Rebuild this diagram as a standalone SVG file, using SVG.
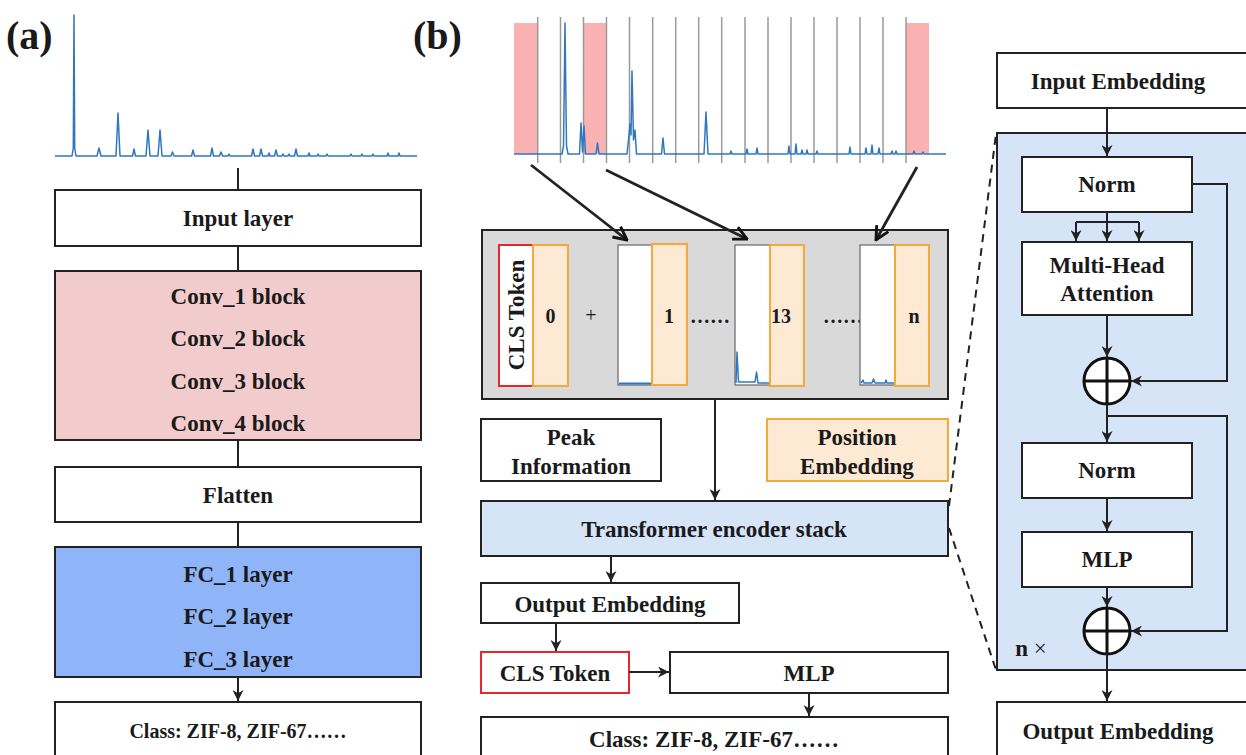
<svg xmlns="http://www.w3.org/2000/svg" width="1246" height="755" viewBox="0 0 1246 755">
<defs>
<style>
text{font-family:"Liberation Serif","Times New Roman",serif;font-weight:bold;fill:#1a1a1a;text-anchor:middle}
.t20{font-size:23px}
.t18{font-size:20px}
.lbl{font-size:40px;text-anchor:start}
.box{fill:#fff;stroke:#222;stroke-width:2}
.pink{fill:#f2cbcc;stroke:#222;stroke-width:2}
.fc{fill:#8fb4f7;stroke:#222;stroke-width:2}
.lb{fill:#d6e4f8;stroke:#222;stroke-width:2}
.gray{fill:#d9d9d9;stroke:#222;stroke-width:2}
.org{fill:#fde9d4;stroke:#f6a93b;stroke-width:2}
.red{fill:#fff;stroke:#e8262b;stroke-width:2}
.spec{fill:none;stroke:#2f78bd;stroke-width:1.5;stroke-linejoin:round}
.ln{fill:none;stroke:#222;stroke-width:2}
.grid{stroke:#9a9a9a;stroke-width:1.5}
.dash{fill:none;stroke:#222;stroke-width:2;stroke-dasharray:8,6}
</style>
<marker id="ah" viewBox="0 0 10 10" refX="10" refY="5" markerWidth="11" markerHeight="11" markerUnits="userSpaceOnUse" orient="auto"><path d="M0,0 L10,5 L0,10 L3,5 z" fill="#222"/></marker>
<marker id="av" viewBox="0 0 12 12" refX="11" refY="6" markerWidth="16" markerHeight="16" markerUnits="userSpaceOnUse" orient="auto"><path d="M1,1 L11,6 L1,11" fill="none" stroke="#111" stroke-width="2.2"/></marker>
</defs>

<!-- Panel labels -->
<text class="lbl" x="6" y="49">(a)</text>
<text class="lbl" x="413" y="49">(b)</text>

<!-- Panel (a) spectrum -->
<g id="spectrum-a">
<path class="spec" d="M55,156 L72,156 L73.3,148 L74,15 L74.7,148 L76,156 L97,156 L99,148 L101,156 L116,156 L118,113 L120,156 L132.5,156 L134,149 L135.5,156 L146,156 L148,130 L150,156 L158,156 L160,130 L162,156 L171,156 L172.5,152 L174,156 L191.5,156 L193,150 L194.5,156 L210.5,156 L212,148 L213.5,156 L219.5,156 L221,152 L222.5,156 L228,156 L229,154 L230,156 L251.5,156 L253,149 L254.5,156 L259.5,156 L261,149 L262.5,156 L268,156 L269,153 L270,156 L274.5,156 L276,150 L277.5,156 L282,156 L283,154 L284,156 L288,156 L289,154 L290,156 L294.5,156 L296,149 L297.5,156 L308,156 L309,153 L310,156 L317,156 L318,154 L319,156 L326,156 L327,154 L328,156 L350,156 L351,154 L352,156 L361,156 L362,154 L363,156 L372,156 L373,154 L374,156 L387,156 L388,153 L389,156 L398,156 L399,153 L400,156 L417,156"/>
</g>

<!-- Panel (a) nodes -->
<g id="input-layer"><rect class="box" x="55" y="190" width="366" height="56"/><text class="t20" x="238" y="226">Input layer</text></g>
<g id="conv-blocks"><rect class="pink" x="55" y="271" width="366" height="169"/>
<text class="t20" x="238" y="304">Conv_1 block</text>
<text class="t20" x="238" y="346">Conv_2 block</text>
<text class="t20" x="238" y="389">Conv_3 block</text>
<text class="t20" x="238" y="431">Conv_4 block</text></g>
<g id="flatten"><rect class="box" x="55" y="467" width="366" height="55"/><text class="t20" x="238" y="503">Flatten</text></g>
<g id="fc-layers"><rect class="fc" x="55" y="547" width="366" height="130"/>
<text class="t20" x="238" y="582">FC_1 layer</text>
<text class="t20" x="238" y="624">FC_2 layer</text>
<text class="t20" x="238" y="667">FC_3 layer</text></g>
<g id="class-a"><rect class="box" x="55" y="702" width="366" height="60"/><text class="t18" x="238" y="738">Class: ZIF-8, ZIF-67……</text></g>

<!-- Panel (b) spectrum -->
<g id="spectrum-b">
<rect x="514" y="23" width="23.5" height="131" fill="#f9a9aa" opacity="0.9"/>
<rect x="583" y="23" width="23" height="131" fill="#f9a9aa" opacity="0.9"/>
<rect x="906" y="23" width="23" height="131" fill="#f9a9aa" opacity="0.9"/>
<g class="grid">
<line x1="537.7" y1="17" x2="537.7" y2="163"/><line x1="560.5" y1="17" x2="560.5" y2="163"/><line x1="583.5" y1="17" x2="583.5" y2="163"/><line x1="606.5" y1="17" x2="606.5" y2="163"/><line x1="629.5" y1="17" x2="629.5" y2="163"/><line x1="652.7" y1="17" x2="652.7" y2="163"/><line x1="675.7" y1="17" x2="675.7" y2="163"/><line x1="698.7" y1="17" x2="698.7" y2="163"/><line x1="721.7" y1="17" x2="721.7" y2="163"/><line x1="745" y1="17" x2="745" y2="163"/><line x1="768" y1="17" x2="768" y2="163"/><line x1="791" y1="17" x2="791" y2="163"/><line x1="814" y1="17" x2="814" y2="163"/><line x1="837" y1="17" x2="837" y2="163"/><line x1="860" y1="17" x2="860" y2="163"/><line x1="883" y1="17" x2="883" y2="163"/><line x1="906" y1="17" x2="906" y2="163"/>
</g>
<path class="spec" d="M514,154 L562,154 L563.5,146 L565,23 L566.5,146 L568,154 L579.5,154 L581,123 L582.5,152 L584,126 L585.5,154 L596,154 L597.5,143 L599,154 L627,154 L628.5,140 L630,124 L631,135 L632,71 L633.5,140 L635,130 L636.5,154 L661.5,154 L663,138 L664.5,154 L704,154 L706,112 L708,154 L730,154 L731,151 L732,154 L746,154 L747,149 L748,154 L756,154 L757,148 L758,154 L788,154 L789,146 L790,154 L795,154 L796,144 L797,154 L801,154 L802,150 L803,154 L806,154 L807,150 L808,154 L816,154 L817,151 L818,154 L849,154 L850,147 L851,154 L865,154 L866,148 L867,154 L871,154 L872,145 L873,154 L878,154 L879,148 L880,154 L891,154 L892,151 L893,154 L895,154 L896,151 L897,154 L913,154 L914,151 L915,154 L922,154 L923,152 L924,154 L946,154"/>
</g>

<!-- Token sequence -->
<g id="token-sequence">
<rect class="gray" x="482" y="230" width="466" height="169"/>
<rect class="red" x="499" y="245" width="34" height="141"/>
<text class="t20" transform="translate(524,315) rotate(-90)">CLS Token</text>
<rect class="org" x="533" y="245" width="35" height="141"/>
<text class="t18" x="550.5" y="323">0</text>
<text class="t18" x="591" y="322" style="font-weight:normal">+</text>
<rect x="618" y="245" width="34" height="140" fill="#fff" stroke="#666" stroke-width="1.2"/>
<path class="spec" d="M619,383.5 L651,383.5" style="stroke-width:2"/>
<rect class="org" x="652" y="244" width="35" height="141"/>
<text class="t18" x="669" y="323">1</text>
<text class="t18" x="710" y="323">……</text>
<rect x="735" y="245" width="35" height="140" fill="#fff" stroke="#666" stroke-width="1.2"/>
<path class="spec" d="M736,383 L737,352 L738.5,382 L755,382 L756.5,372 L758,383 L769,383"/>
<rect class="org" x="770" y="245" width="34" height="141"/>
<text class="t18" x="781" y="323">13</text>
<text class="t18" x="843" y="323">……</text>
<rect x="860" y="245" width="35" height="140" fill="#fff" stroke="#666" stroke-width="1.2"/>
<path class="spec" d="M861,383 L863,380 L864,383 L872,383 L873.5,379 L875,383 L885,383 L886,380 L887,383 L894,383"/>
<rect class="org" x="895" y="245" width="34" height="141"/>
<text class="t18" x="914" y="323">n</text>
</g>

<g id="peak-information"><rect class="box" x="481" y="419" width="180" height="62"/><text class="t20" x="571" y="445">Peak</text><text class="t20" x="571" y="474">Information</text></g>
<g id="position-embedding"><rect class="org" x="767" y="419" width="181" height="62"/><text class="t20" x="857" y="445">Position</text><text class="t20" x="857" y="474">Embedding</text></g>
<g id="transformer-stack"><rect class="lb" x="481" y="501" width="467" height="55"/><text class="t20" x="714" y="537">Transformer encoder stack</text></g>
<g id="output-embedding-b"><rect class="box" x="481" y="583" width="258" height="40"/><text class="t20" x="610" y="612">Output Embedding</text></g>
<g id="cls-token-b"><rect class="red" x="481" y="652" width="148" height="41"/><text class="t20" x="555" y="681">CLS Token</text></g>
<g id="mlp-b"><rect class="box" x="670" y="652" width="278" height="41"/><text class="t20" x="809" y="681">MLP</text></g>
<g id="class-b"><rect class="box" x="481" y="717" width="467" height="45"/><text class="t20" x="714" y="747">Class: ZIF-8, ZIF-67……</text></g>

<!-- Encoder detail -->
<g id="input-embedding"><rect class="box" x="997" y="53" width="255" height="55"/><text class="t20" x="1118" y="89">Input Embedding</text></g>
<g id="encoder-block"><rect class="lb" x="997" y="133" width="255" height="537"/><text class="t20" x="1031" y="656">n <tspan style="font-weight:normal">×</tspan></text></g>
<g id="norm-1"><rect class="box" x="1022" y="157" width="170" height="55"/><text class="t20" x="1107" y="192">Norm</text></g>
<g id="mha"><rect class="box" x="1022" y="242" width="170" height="73"/><text class="t20" x="1107" y="273">Multi-Head</text><text class="t20" x="1107" y="301">Attention</text></g>
<g id="add-1"><circle cx="1107" cy="381" r="23" fill="#fff" stroke="#111" stroke-width="3"/><path d="M1084,381 H1130 M1107,358 V404" stroke="#111" stroke-width="3"/></g>
<g id="norm-2"><rect class="box" x="1022" y="443" width="170" height="55"/><text class="t20" x="1107" y="478">Norm</text></g>
<g id="mlp-enc"><rect class="box" x="1022" y="532" width="170" height="55"/><text class="t20" x="1107" y="567">MLP</text></g>
<g id="add-2"><circle cx="1107" cy="631" r="23" fill="#fff" stroke="#111" stroke-width="3"/><path d="M1084,631 H1130 M1107,608 V654" stroke="#111" stroke-width="3"/></g>
<g id="output-embedding-r"><rect class="box" x="997" y="702" width="255" height="60"/><text class="t20" x="1118" y="739">Output Embedding</text></g>

<!-- Connectors -->
<g id="connectors">
<line class="ln" x1="238" y1="168" x2="238" y2="190"/>
<line class="ln" x1="238" y1="246" x2="238" y2="271"/>
<line class="ln" x1="238" y1="440" x2="238" y2="467"/>
<line class="ln" x1="238" y1="522" x2="238" y2="547"/>
<line class="ln" x1="238" y1="677" x2="238" y2="701" marker-end="url(#ah)"/>

<line class="ln" x1="531" y1="165" x2="627" y2="240" style="stroke-width:2.8" marker-end="url(#av)"/>
<line class="ln" x1="606" y1="170" x2="747" y2="239" style="stroke-width:2.8" marker-end="url(#av)"/>
<line class="ln" x1="917" y1="167" x2="876" y2="240" style="stroke-width:2.8" marker-end="url(#av)"/>

<line class="ln" x1="715" y1="399" x2="715" y2="500" marker-end="url(#ah)"/>
<line class="ln" x1="611" y1="556" x2="611" y2="582" marker-end="url(#ah)"/>
<line class="ln" x1="556" y1="623" x2="556" y2="651" marker-end="url(#ah)"/>
<line class="ln" x1="629" y1="672" x2="669" y2="672" marker-end="url(#ah)"/>
<line class="ln" x1="809" y1="693" x2="809" y2="716" marker-end="url(#ah)"/>

<line class="dash" x1="949" y1="506" x2="996" y2="134"/>
<line class="dash" x1="949" y1="528" x2="996" y2="670"/>

<line class="ln" x1="1107" y1="108" x2="1107" y2="156" marker-end="url(#ah)"/>
<path class="ln" d="M1107,212 V222 M1076,222 H1139"/>
<line class="ln" x1="1076" y1="222" x2="1076" y2="241" marker-end="url(#ah)"/>
<line class="ln" x1="1107" y1="222" x2="1107" y2="241" marker-end="url(#ah)"/>
<line class="ln" x1="1139" y1="222" x2="1139" y2="241" marker-end="url(#ah)"/>
<line class="ln" x1="1107" y1="315" x2="1107" y2="357" marker-end="url(#ah)"/>
<path class="ln" d="M1192,184 H1227 V381 H1131" marker-end="url(#ah)"/>
<line class="ln" x1="1107" y1="404" x2="1107" y2="442" marker-end="url(#ah)"/>
<path class="ln" d="M1107,416 H1227 V631 H1131" marker-end="url(#ah)"/>
<line class="ln" x1="1107" y1="498" x2="1107" y2="531" marker-end="url(#ah)"/>
<line class="ln" x1="1107" y1="587" x2="1107" y2="607" marker-end="url(#ah)"/>
<line class="ln" x1="1107" y1="654" x2="1107" y2="701" marker-end="url(#ah)"/>
</g>
</svg>
